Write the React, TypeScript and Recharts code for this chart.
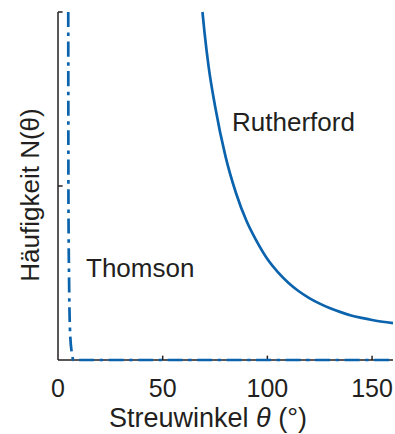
import React from 'react';
import { LineChart, Line, XAxis, YAxis, ReferenceLine } from 'recharts';

// scattering angle (deg) vs. relative count
const rutherfordTheta = [69, 70, 72, 75, 80, 85, 90, 95, 100, 105, 110, 115, 120, 125, 130, 135, 140, 145, 150, 155, 160];
const rutherfordN = [2.0, 1.88, 1.68, 1.46, 1.17, 0.96, 0.8, 0.68, 0.58, 0.505, 0.444, 0.395, 0.356, 0.324, 0.297, 0.275, 0.256, 0.242, 0.23, 0.22, 0.212];

const thomsonTheta = [4.9, 5.0, 5.3, 5.8, 6.6, 7.4, 160];
const thomsonN = [2.0, 0.9, 0.45, 0.15, 0.04, 0, 0];

const xTicks = [0, 50, 100, 150];
const yTicks = [1, 2];

const BLUE = '#0b63ad';
const INK = '#231f20';
const FONT = '"Liberation Sans", Arial, sans-serif';
const FS = 26;

// inward tick lengths in data units (about 4px each)
const X_TICK_LEN = 0.025;
const Y_TICK_LEN = 2.2;

const rutherfordData = rutherfordTheta.map((t, i) => ({ theta: t, n: rutherfordN[i] }));
const thomsonData = thomsonTheta.map((t, i) => ({ theta: t, n: thomsonN[i] }));

const textStyle: React.CSSProperties = {
  position: 'absolute',
  fontFamily: FONT,
  fontSize: FS,
  color: INK,
  whiteSpace: 'nowrap',
  lineHeight: 1,
};

export default function App() {
  return (
    <div style={{ position: 'absolute', left: 0, top: 0, width: 395, height: 434, background: '#fff' }}>
      <LineChart width={395} height={434} margin={{ top: 12, right: 2, bottom: 73, left: 57 }}>
        <XAxis
          dataKey="theta"
          type="number"
          domain={[0, 160]}
          ticks={xTicks}
          height={1}
          stroke={INK}
          strokeWidth={1.5}
          tickLine={false}
          tickSize={0}
          tickMargin={19}
          tick={{ fill: INK, fontSize: 25, fontFamily: FONT }}
        />
        <YAxis
          type="number"
          domain={[0, 2]}
          ticks={yTicks}
          width={1}
          stroke={INK}
          strokeWidth={1.5}
          tickLine={false}
          tick={false}
        />
        {xTicks.slice(1).map((t) => (
          <ReferenceLine
            key={'xt' + t}
            segment={[{ x: t, y: 0 }, { x: t, y: X_TICK_LEN }]}
            stroke={INK}
            strokeWidth={1.5}
          />
        ))}
        {yTicks.map((t) => (
          <ReferenceLine
            key={'yt' + t}
            segment={[{ x: 0, y: t }, { x: Y_TICK_LEN, y: t }]}
            stroke={INK}
            strokeWidth={1.5}
          />
        ))}
        <Line
          data={thomsonData}
          dataKey="n"
          type="monotone"
          stroke={BLUE}
          strokeWidth={2.7}
          strokeDasharray="15 5.5 3.5 5.5"
          dot={false}
          isAnimationActive={false}
          zIndex={700}
        />
        <Line
          data={rutherfordData}
          dataKey="n"
          type="monotone"
          stroke={BLUE}
          strokeWidth={2.7}
          dot={false}
          isAnimationActive={false}
          zIndex={700}
        />
      </LineChart>
      <div style={{ ...textStyle, left: 232, top: 109 }}>Rutherford</div>
      <div style={{ ...textStyle, left: 86, top: 255 }}>Thomson</div>
      <div style={{ ...textStyle, fontSize: 27, left: 208, top: 405, transform: 'translateX(-50%)' }}>
        Streuwinkel <i>θ</i> (°)
      </div>
      <div
        style={{
          ...textStyle,
          left: 30,
          top: 195,
          transform: 'translate(-50%, -50%) rotate(-90deg)',
        }}
      >
        Häufigkeit N(θ)
      </div>
    </div>
  );
}
